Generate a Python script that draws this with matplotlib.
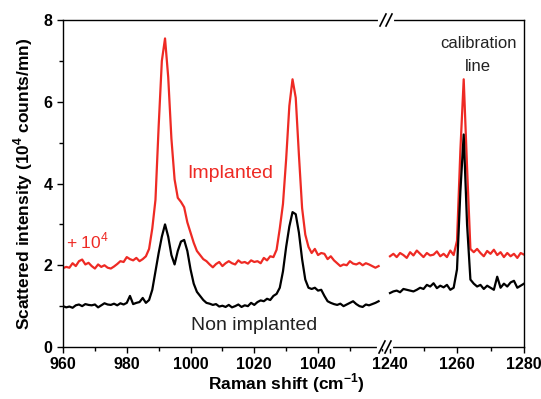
import numpy as np
import matplotlib.pyplot as plt
from matplotlib.lines import Line2D
from matplotlib.ticker import MultipleLocator

plt.rcParams['font.family'] = ['Liberation Sans', 'DejaVu Sans']
plt.rcParams['mathtext.fontset'] = 'custom'
plt.rcParams['mathtext.rm'] = 'Liberation Sans'
plt.rcParams['mathtext.bf'] = 'Liberation Sans:bold'

# left segment, 960-1059 cm-1, 1 cm-1 steps
shift_left = np.arange(960, 1060)
non_impl_left = [
    1.00, 0.97, 0.99, 0.96, 1.02, 1.04, 1.00, 1.05, 1.03, 1.02,
    1.04, 0.97, 1.02, 1.07, 1.04, 1.03, 1.06, 1.02, 1.07, 1.04,
    1.08, 1.25, 1.05, 1.08, 1.10, 1.20, 1.08, 1.15, 1.40, 1.85,
    2.30, 2.70, 3.00, 2.70, 2.25, 2.02, 2.35, 2.58, 2.62, 2.35,
    1.90, 1.55, 1.35, 1.25, 1.15, 1.08, 1.06, 1.03, 1.05, 0.99,
    1.01, 0.98, 1.03, 0.97, 1.00, 1.04, 0.98, 1.02, 1.00, 1.08,
    1.03, 1.10, 1.14, 1.12, 1.18, 1.15, 1.25, 1.30, 1.45, 1.85,
    2.45, 2.95, 3.30, 3.25, 2.80, 2.15, 1.65, 1.45, 1.42, 1.45,
    1.38, 1.40, 1.25, 1.12, 1.08, 1.05, 1.03, 1.06, 1.00, 1.04,
    1.08, 1.12, 1.05, 1.00, 0.98, 1.04, 1.02, 1.05, 1.08, 1.12]
impl_left = [
    1.93, 1.96, 1.94, 2.05, 1.98, 2.10, 2.14, 2.02, 2.06, 1.98,
    1.92, 2.02, 1.96, 2.00, 1.94, 1.92, 1.97, 2.03, 2.10, 2.08,
    2.20, 2.15, 2.12, 2.18, 2.10, 2.15, 2.22, 2.40, 2.90, 3.60,
    5.40, 7.00, 7.55, 6.60, 5.10, 4.10, 3.65, 3.55, 3.42, 3.05,
    2.80, 2.55, 2.35, 2.25, 2.15, 2.10, 2.02, 1.95, 2.03, 2.08,
    1.98, 2.05, 2.10, 2.05, 2.02, 2.12, 2.06, 2.08, 2.04, 2.12,
    2.08, 2.10, 2.05, 2.18, 2.12, 2.22, 2.20, 2.38, 2.90, 3.50,
    4.60, 5.90, 6.55, 6.10, 4.70, 3.40, 2.75, 2.45, 2.30, 2.40,
    2.25, 2.30, 2.28, 2.15, 2.22, 2.12, 2.05, 1.98, 2.02, 2.00,
    2.10, 2.04, 2.02, 2.06, 2.00, 2.05, 2.02, 1.98, 1.94, 1.98]

# right segment, 1240-1280 cm-1
shift_right = np.arange(1240, 1281)
non_impl_right = [
    1.32, 1.36, 1.38, 1.34, 1.42, 1.40, 1.38, 1.36, 1.40, 1.45,
    1.42, 1.52, 1.48, 1.56, 1.44, 1.50, 1.46, 1.52, 1.40, 1.45,
    1.90, 3.80, 5.20, 3.00, 1.65, 1.55, 1.48, 1.52, 1.42, 1.50,
    1.45, 1.40, 1.72, 1.45, 1.55, 1.48, 1.58, 1.62, 1.45, 1.50,
    1.55]
impl_right = [
    2.22, 2.28, 2.20, 2.30, 2.25, 2.18, 2.32, 2.24, 2.36, 2.28,
    2.20, 2.30, 2.24, 2.26, 2.34, 2.22, 2.28, 2.20, 2.36, 2.25,
    2.60, 4.80, 6.55, 4.40, 2.40, 2.32, 2.40, 2.30, 2.22, 2.35,
    2.28, 2.38, 2.25, 2.32, 2.20, 2.30, 2.22, 2.28, 2.18, 2.30,
    2.26]

red = '#ee2a24'

fig = plt.figure(figsize=(5.41, 3.99), dpi=100)
ax1 = fig.add_axes([0.1165, 0.1303, 0.5951, 0.8195])
ax2 = fig.add_axes([0.7116, 0.1303, 0.2570, 0.8195], sharey=ax1)

for ax, xs, yb, yr in [(ax1, shift_left, non_impl_left, impl_left),
                       (ax2, shift_right, non_impl_right, impl_right)]:
    ax.plot(xs, yr, color=red, lw=1.6)
    ax.plot(xs, yb, color='black', lw=1.6)
    ax.tick_params(which='both', direction='out', width=1.0, labelsize=11.5)
    ax.tick_params(which='major', length=4)
    ax.tick_params(which='minor', length=3)
    for s in ax.spines.values():
        s.set_linewidth(1.0)

ax1.set_xlim(960, 1061)
ax1.set_ylim(0, 8)
ax1.set_xticks([960, 980, 1000, 1020, 1040])
ax1.xaxis.set_minor_locator(MultipleLocator(10))
ax1.yaxis.set_major_locator(MultipleLocator(2))
ax1.yaxis.set_minor_locator(MultipleLocator(1))
ax1.spines['right'].set_visible(False)

ax2.set_xlim(1238.5, 1280)
ax2.set_xticks([1240, 1260, 1280])
ax2.xaxis.set_minor_locator(MultipleLocator(10))
ax2.spines['left'].set_visible(False)
ax2.tick_params(axis='y', which='both', left=False, labelleft=False)

for ax in (ax1, ax2):
    for lab in ax.get_xticklabels() + ax.get_yticklabels():
        lab.set_fontweight('bold')

ax1.set_ylabel('Scattered intensity (10$^{\\mathbf{4}}$ counts/mn)',
               fontsize=12.5, fontweight='bold', labelpad=6)
fig.text(0.53, 0.04, 'Raman shift (cm$^{\\mathbf{-1}}$)', fontsize=12.5,
         fontweight='bold', ha='center', va='center')

ax1.text(1012.5, 4.25, 'Implanted', color=red, fontsize=14, ha='center', va='center')
ax1.text(1020, 0.53, 'Non implanted', color='#222222', fontsize=14, ha='center', va='center')
ax1.text(961, 2.6, '+ 10$^4$', color=red, fontsize=12.5, ha='left', va='center')
ax2.text(1266.3, 7.15, 'calibration\nline', color='#222222', fontsize=12,
         ha='center', va='center', linespacing=1.65)

# axis break marks
W, H = 541, 399
for xb, yb in [(386, 20), (385, 347)]:
    cx, cy = xb / W, 1 - yb / H
    fig.add_artist(Line2D([cx - 6 / W, cx + 6 / W], [cy, cy], color='white', lw=3,
                          transform=fig.transFigure))
    for dx in (-3, 3):
        fig.add_artist(Line2D([cx + (dx - 3) / W, cx + (dx + 3) / W],
                              [cy - 6 / H, cy + 6 / H], color='black', lw=1.2,
                              transform=fig.transFigure))

fig.savefig('out.png', dpi=100)
